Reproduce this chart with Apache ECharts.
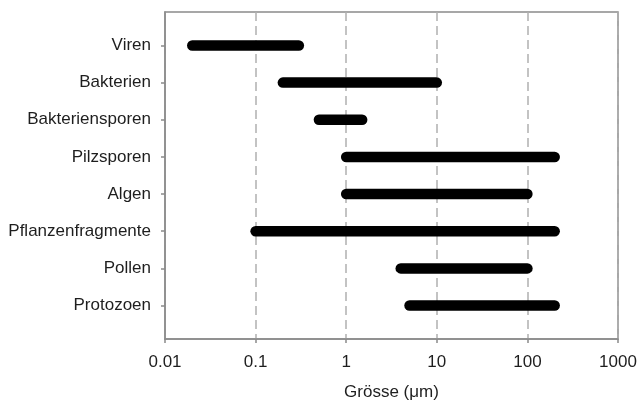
<!DOCTYPE html>
<html>
<head>
<meta charset="utf-8">
<script src="https://cdn.jsdelivr.net/npm/echarts@6/dist/echarts.min.js"></script>
<style>
html,body{margin:0;padding:0;background:#fff;}
#chart{width:640px;height:408px;}
</style>
</head>
<body>
<div id="chart"></div>
<script>
const categories = ['Viren','Bakterien','Bakteriensporen','Pilzsporen','Algen','Pflanzenfragmente','Pollen','Protozoen'];
const sizeMin = [0.02, 0.2, 0.5, 1, 1, 0.1, 4, 5];
const sizeMax = [0.3, 10, 1.5, 200, 100, 200, 100, 200];
const xTickLabels = ['0.01','0.1','1','10','100','1000'];
const xTitle = 'Grösse (\u03bcm)';

const chart = echarts.init(document.getElementById('chart'), null, {renderer:'canvas'});
const font = '"Liberation Sans", Arial, sans-serif';
const fs = 17;
const rows = categories.map((c,i)=>[sizeMin[i], sizeMax[i], i+1]);
const positions = categories.map((c,i)=>i+1);

chart.setOption({
  animation:false,
  backgroundColor:'#fff',
  grid:{left:165, right:22, top:12, bottom:69, outerBoundsMode:'none', containLabel:false,
    show:true, borderColor:'#8a8a8a', borderWidth:1.5, backgroundColor:'transparent'},
  xAxis:{
    type:'log', logBase:10, min:0.01, max:1000,
    name:xTitle, nameLocation:'middle', nameGap:45,
    nameTextStyle:{fontFamily:font, fontSize:fs, color:'#1e1e1e'},
    axisLine:{show:true, lineStyle:{color:'#8a8a8a', width:1.5}},
    axisTick:{show:true, length:4, inside:false, lineStyle:{color:'#8a8a8a', width:1.5}},
    axisLabel:{margin:15, fontFamily:font, fontSize:fs, color:'#1e1e1e',
      formatter:(v)=>{ const e=Math.round(Math.log10(v)); return xTickLabels[e+2] ?? String(v); }},
    splitLine:{show:true, lineStyle:{color:'#b0b0b0', width:1.5, type:[9,5]}},
    minorTick:{show:false}
  },
  yAxis:{
    type:'value', min:0.1, max:8.9, inverse:true,
    axisLine:{show:true, lineStyle:{color:'#8a8a8a', width:1.5}},
    axisTick:{show:true, length:4, customValues:positions, lineStyle:{color:'#8a8a8a', width:1.5}},
    axisLabel:{margin:14, fontFamily:font, fontSize:fs, color:'#1e1e1e', customValues:positions,
      formatter:(v)=>categories[Math.round(v)-1] || ''},
    splitLine:{show:false}
  },
  series:[{
    type:'custom',
    data:rows,
    encode:{x:[0,1], y:2},
    renderItem:(params, api)=>{
      const s = api.coord([api.value(0), api.value(2)]);
      const e = api.coord([api.value(1), api.value(2)]);
      return {type:'line', shape:{x1:s[0], y1:s[1], x2:e[0], y2:e[1]},
        style:{stroke:'#000', lineWidth:10.5, lineCap:'round'}};
    }
  }]
});
</script>
</body>
</html>
